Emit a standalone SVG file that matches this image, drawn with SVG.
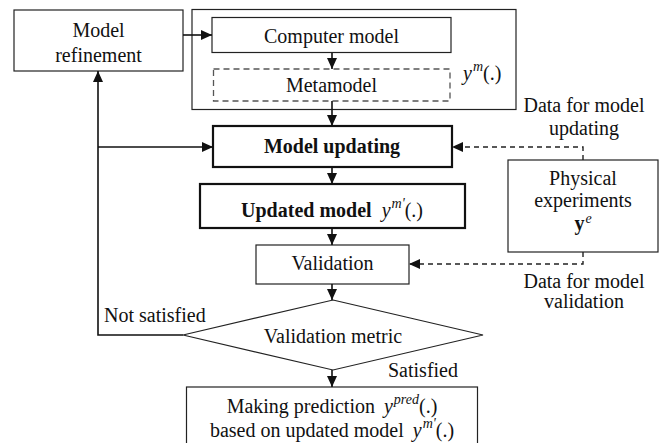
<svg xmlns="http://www.w3.org/2000/svg" width="662" height="443" viewBox="0 0 662 443" font-family="'Liberation Serif', 'DejaVu Serif', serif">
  <style>
    text { font-family: 'Liberation Serif', 'DejaVu Serif', serif; font-size: 20px; fill: #111; }
    .c { text-anchor: middle; }
    .b { font-weight: bold; }
    .i { font-style: italic; }
    .sup { font-style: italic; font-size: 14px; }
    .box { fill: #fff; stroke: #222; stroke-width: 1.2; }
    .thick { fill: #fff; stroke: #111; stroke-width: 2.2; }
    .dash { fill: #fff; stroke: #555; stroke-width: 1.3; stroke-dasharray: 6 4; }
    .line { fill: none; stroke: #111; stroke-width: 1.6; }
    .dline { fill: none; stroke: #222; stroke-width: 1.4; stroke-dasharray: 5 4; }
  </style>
  <defs>
    <marker id="arrow" markerUnits="userSpaceOnUse" markerWidth="12" markerHeight="10" refX="11" refY="5" orient="auto">
      <path d="M0,0 L11,5 L0,10 z" fill="#111"/>
    </marker>
  </defs>
  <rect width="662" height="443" fill="#fff"/>

  <!-- enclosing frame for computer model + metamodel -->
  <g id="model-group">
    <rect class="box" x="192" y="9.5" width="324" height="100"/>
    <text x="463" y="80"><tspan class="i">y</tspan><tspan class="sup" dx="1" dy="-9">m</tspan><tspan dy="9">(.)</tspan></text>
  </g>

  <g id="model-refinement">
    <rect class="box" x="14" y="10" width="169" height="61"/>
    <text class="c" x="98.5" y="37">Model</text>
    <text class="c" x="98.5" y="62">refinement</text>
  </g>

  <g id="computer-model">
    <rect class="box" x="212" y="17.5" width="239" height="35"/>
    <text class="c" x="331.5" y="43">Computer model</text>
  </g>

  <g id="metamodel">
    <rect class="dash" x="213.5" y="69" width="236.5" height="32"/>
    <text class="c" x="331.5" y="92">Metamodel</text>
  </g>

  <g id="model-updating">
    <rect class="thick" x="213" y="126" width="239" height="41"/>
    <text class="c b" x="332" y="153">Model updating</text>
  </g>

  <g id="updated-model">
    <rect class="thick" x="200" y="184" width="265" height="44"/>
    <text class="c" x="332" y="217"><tspan class="b">Updated model</tspan><tspan class="i" dx="10">y</tspan><tspan class="sup" dx="1" dy="-9">m'</tspan><tspan dy="9">(.)</tspan></text>
  </g>

  <g id="validation">
    <rect class="box" x="256" y="245" width="153" height="39"/>
    <text class="c" x="332.5" y="270">Validation</text>
  </g>

  <g id="validation-metric">
    <polygon class="box" points="333,300 483,335 333,370 183,335"/>
    <text class="c" x="333" y="343">Validation metric</text>
  </g>

  <g id="prediction">
    <rect class="box" x="186.5" y="387" width="291" height="60"/>
    <text class="c" x="332" y="413">Making prediction <tspan class="i" dx="4">y</tspan><tspan class="sup" dx="1" dy="-9">pred</tspan><tspan dy="9">(.)</tspan></text>
    <text class="c" x="332" y="437">based on updated model <tspan class="i" dx="4">y</tspan><tspan class="sup" dx="1" dy="-9">m'</tspan><tspan dy="9">(.)</tspan></text>
  </g>

  <g id="physical-experiments">
    <rect class="box" x="508" y="160" width="150" height="92"/>
    <text class="c" x="583" y="185">Physical</text>
    <text class="c" x="583" y="207">experiments</text>
    <text class="c" x="583" y="230"><tspan class="b">y</tspan><tspan class="sup" dx="1" dy="-7">e</tspan></text>
  </g>

  <g id="connectors">
    <path class="line" d="M183,35 H212" marker-end="url(#arrow)"/>
    <path class="line" d="M332,53 V69" marker-end="url(#arrow)"/>
    <path class="line" d="M332,101 V126" marker-end="url(#arrow)"/>
    <path class="line" d="M332,167 V184" marker-end="url(#arrow)"/>
    <path class="line" d="M332,228 V245" marker-end="url(#arrow)"/>
    <path class="line" d="M332,284 V300" marker-end="url(#arrow)"/>
    <path class="line" d="M332,370 V387" marker-end="url(#arrow)"/>
    <path class="line" d="M183,335 H98 V71" marker-end="url(#arrow)"/>
    <path class="line" d="M98,147 H213" marker-end="url(#arrow)"/>
    <path class="dline" d="M583,160 V147 H452" marker-end="url(#arrow)"/>
    <path class="dline" d="M583,252 V264 H409" marker-end="url(#arrow)"/>
  </g>

  <g id="labels">
    <text x="104" y="322">Not satisfied</text>
    <text x="388" y="377">Satisfied</text>
    <text class="c" x="584" y="112">Data for model</text>
    <text class="c" x="584" y="135">updating</text>
    <text class="c" x="584" y="288">Data for model</text>
    <text class="c" x="584" y="308">validation</text>
  </g>
</svg>
